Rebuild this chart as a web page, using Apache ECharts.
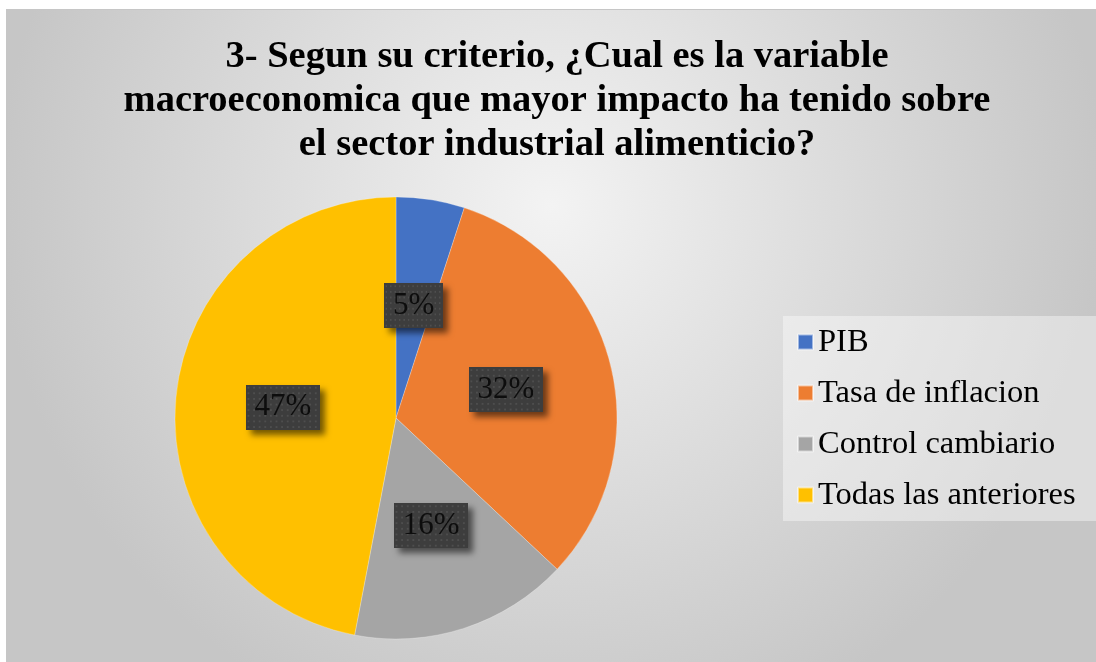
<!DOCTYPE html>
<html>
<head>
<meta charset="utf-8">
<script src="https://cdn.jsdelivr.net/npm/echarts@6/dist/echarts.min.js"></script>
<style>
  html, body { margin: 0; padding: 0; background: #fff; }
  #chart {
    position: absolute; left: 6px; top: 9px;
    width: 1090px; height: 653px;
    box-sizing: border-box; border: 1px solid #c6c6c6; border-right: none; border-bottom: none;
  }
</style>
</head>
<body>
<div id="chart"></div>
<script>
// datos de la encuesta
var categories = ['PIB', 'Tasa de inflacion', 'Control cambiario', 'Todas las anteriores'];
var values = [5, 32, 16, 47];
var colors = ['#4472C4', '#ED7D31', '#A5A5A5', '#FFC000'];

var titleText = '3- Segun su criterio, ¿Cual es la variable\nmacroeconomica que mayor impacto ha tenido sobre\nel sector industrial alimenticio?';

// fondo punteado de las etiquetas
function makeDots() {
  var c = document.createElement('canvas');
  c.width = 80; c.height = 48;
  var ctx = c.getContext('2d');
  ctx.fillStyle = '#3d3d3d';
  ctx.fillRect(0, 0, 80, 48);
  ctx.fillStyle = '#4e4e4e';
  for (var y = 2; y < 48; y += 6) {
    for (var x = 2; x < 80; x += 6) {
      ctx.fillRect(x, y, 2, 2);
    }
  }
  return c;
}
var dots = makeDots();

var chart = echarts.init(document.getElementById('chart'));

var pieData = categories.map(function (name, i) {
  return { name: name, value: values[i], itemStyle: { color: colors[i] } };
});

chart.setOption({
  backgroundColor: {
    type: 'radial', x: 0.5, y: 0.3, r: 0.85,
    colorStops: [
      { offset: 0, color: '#f3f3f3' },
      { offset: 1, color: '#c6c6c6' }
    ]
  },
  animation: false,
  title: {
    text: titleText,
    left: 545,
    textAlign: 'center',
    top: 20,
    textStyle: {
      fontFamily: 'Liberation Serif',
      fontWeight: 'bold',
      fontSize: 38.5,
      lineHeight: 44,
      color: '#000'
    }
  },
  legend: {
    orient: 'vertical',
    left: 776,
    top: 306,
    padding: [9, 30, 9, 14],
    backgroundColor: 'rgba(255,255,255,0.4)',
    itemWidth: 15,
    itemHeight: 15,
    itemGap: 17,
    icon: 'rect',
    data: categories,
    textStyle: {
      fontFamily: 'Liberation Serif',
      fontSize: 32.5,
      lineHeight: 34,
      color: '#000',
      padding: [0, 0, 0, 0]
    }
  },
  series: [
    {
      type: 'pie',
      center: [389, 408],
      radius: 221,
      startAngle: 90,
      clockwise: true,
      data: pieData,
      itemStyle: { borderColor: 'rgba(255,255,255,0.5)', borderWidth: 0.5 },
      label: {
        position: 'inside',
        formatter: '{c}%',
        fontFamily: 'Liberation Serif',
        fontSize: 31,
        color: '#0d0d0d',
        backgroundColor: { image: dots },
        padding: [7, 9, 7, 9],
        shadowColor: 'rgba(0,0,0,0.55)',
        shadowBlur: 6,
        shadowOffsetX: 5,
        shadowOffsetY: 5
      },
      labelLine: { show: false },
      emphasis: { disabled: true }
    }
  ]
});
</script>
</body>
</html>
